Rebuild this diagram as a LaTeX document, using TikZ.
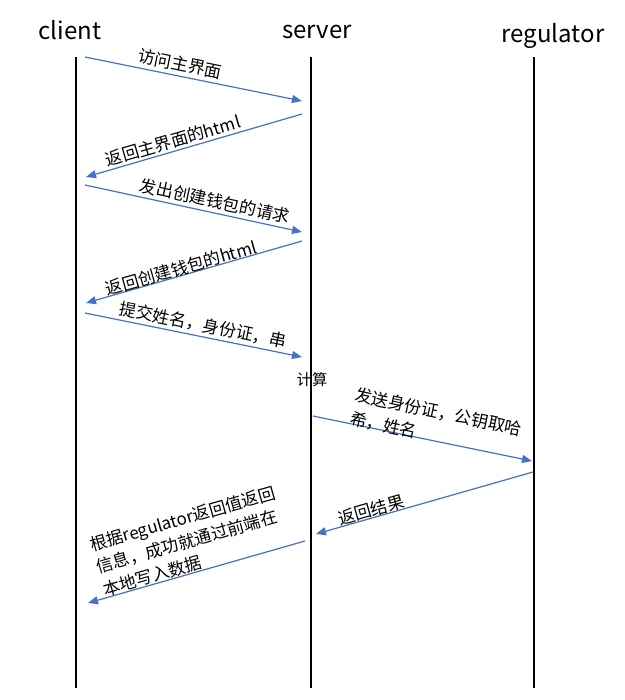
\documentclass[tikz,border=0pt]{standalone}
\usepackage{fontspec}
\setmainfont{Noto Sans CJK SC}
\usetikzlibrary{arrows.meta}
\definecolor{msgblue}{HTML}{4472C4}
\begin{document}
\begin{tikzpicture}[x=0.75pt,y=-0.75pt,
  lifeline/.style={line width=1.5pt,black},
  msg/.style={draw=msgblue,line width=0.9pt,-{Triangle[length=7.5pt,width=6pt]}},
  msglabel/.style={font=\fontsize{12.75}{15}\selectfont,inner sep=0pt,align=left},
  actor/.style={font=\fontsize{18}{22}\selectfont,inner sep=0pt,anchor=base}]
\useasboundingbox[fill=white] (0,0) rectangle (625,700);

% actors
\node[actor] (client) at (70,39) {client};
\node[actor] (server) at (317,38) {server};
\node[actor] (regulator) at (553,42) {regulator};

% lifelines
\coordinate (ctop) at (76,57);  \coordinate (cbot) at (76,688);
\coordinate (stop) at (311,57); \coordinate (sbot) at (311,688);
\coordinate (rtop) at (534,57); \coordinate (rbot) at (534,688);
\draw[lifeline] (ctop) -- (cbot);
\draw[lifeline] (stop) -- (sbot);
\draw[lifeline] (rtop) -- (rbot);

% message end points
\coordinate (m1a) at (85,57);   \coordinate (m1b) at (302,101);
\coordinate (m2a) at (302,114); \coordinate (m2b) at (86,177);
\coordinate (m3a) at (85,185);  \coordinate (m3b) at (302,232);
\coordinate (m4a) at (302,241); \coordinate (m4b) at (86,303);
\coordinate (m5a) at (85,313);  \coordinate (m5b) at (302,357);
\coordinate (m6a) at (313,416); \coordinate (m6b) at (532,461);
\coordinate (m7a) at (533,472); \coordinate (m7b) at (316,534);
\coordinate (m8a) at (305,541); \coordinate (m8b) at (88,603);

\draw[msg] (m1a) -- (m1b);
\draw[msg] (m2a) -- (m2b);
\draw[msg] (m3a) -- (m3b);
\draw[msg] (m4a) -- (m4b);
\draw[msg] (m5a) -- (m5b);
\draw[msg] (m6a) -- (m6b);
\draw[msg] (m7a) -- (m7b);
\draw[msg] (m8a) -- (m8b);

% labels
\node[msglabel,rotate=-11.5] (l1) at (180,64) {访问主界面};
\node[msglabel,rotate=16.3] (l2) at (173,141) {返回主界面的html};
\node[msglabel,rotate=-12.2] (l3) at (215,201) {发出创建钱包的请求};
\node[msglabel,rotate=16] (l4) at (181,268) {返回创建钱包的html};
\node[msglabel,rotate=-11.5] (l5) at (203,325) {提交姓名，身份证，串};
\node[msglabel,font=\fontsize{11.5}{14}\selectfont] (l5b) at (312,380) {计算};
\node[msglabel,font=\fontsize{12.75}{18}\selectfont,rotate=-11.9] (l6) at (436,424) {发送身份证，公钥取哈\\希，姓名};
\node[msglabel,rotate=16] (l7) at (371,510) {返回结果};
\node[msglabel,font=\fontsize{12.75}{17.5}\selectfont,rotate=16] (l8) at (189,541) {根据regulator返回值返回\\信息，成功就通过前端在\\本地写入数据};
\end{tikzpicture}
\end{document}
